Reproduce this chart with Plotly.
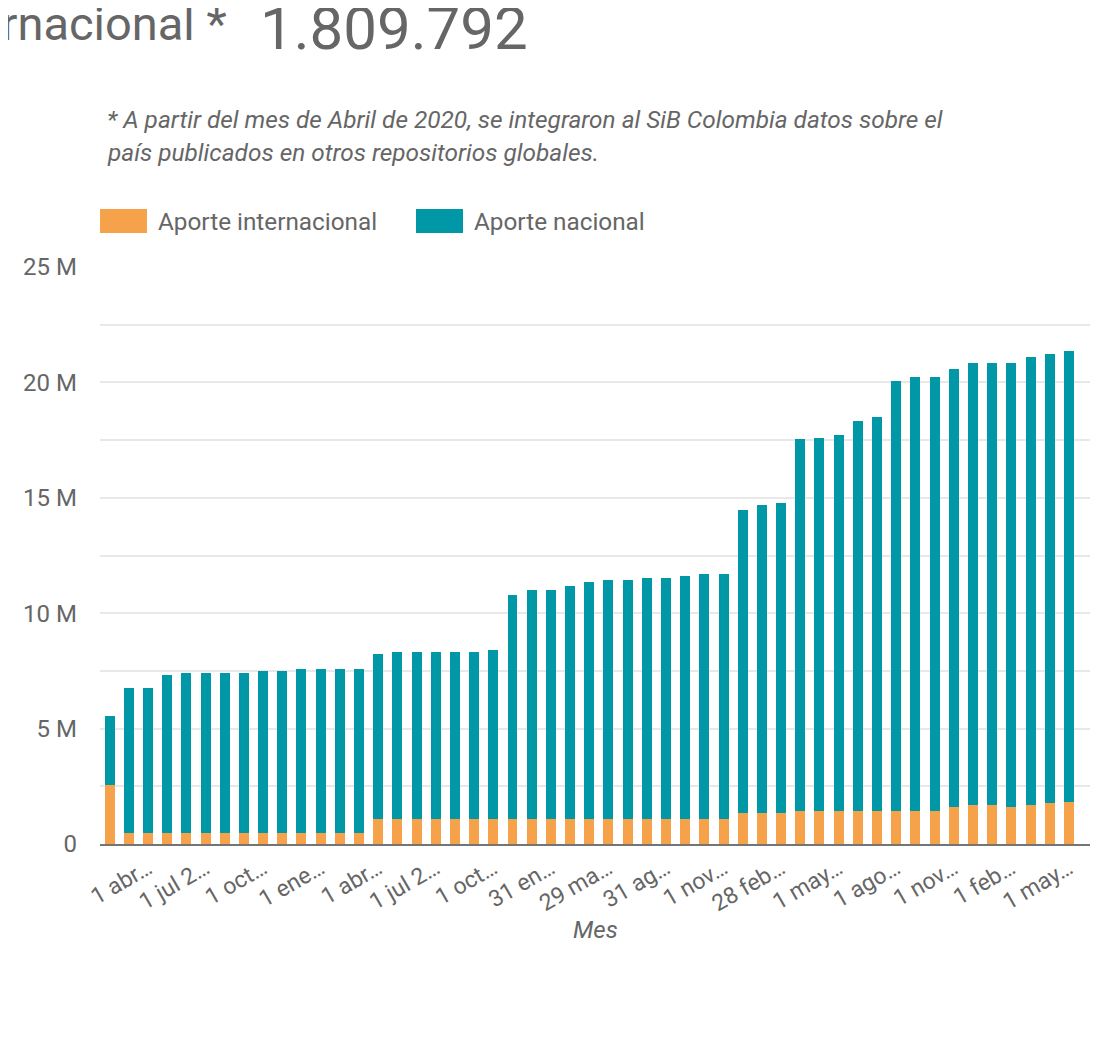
import plotly.graph_objects as go

# ---------------- data ----------------
meses = [
    "1 feb 2018", "1 mar 2018", "1 abr 2018", "1 may 2018", "1 jun 2018", "1 jul 2018",
    "1 ago 2018", "1 sept 2018", "1 oct 2018", "1 nov 2018", "1 dic 2018", "1 ene 2019",
    "1 feb 2019", "1 mar 2019", "1 abr 2019", "1 may 2019", "1 jun 2019", "1 jul 2019",
    "1 ago 2019", "1 sept 2019", "1 oct 2019", "1 nov 2019", "1 dic 2019", "31 ene 2020",
    "29 feb 2020", "31 mar 2020", "29 may 2020", "30 jun 2020", "31 jul 2020", "31 ago 2020",
    "1 sept 2020", "1 oct 2020", "1 nov 2020", "1 dic 2020", "1 ene 2021", "28 feb 2021",
    "31 mar 2021", "1 abr 2021", "1 may 2021", "1 jun 2021", "1 jul 2021", "1 ago 2021",
    "1 sept 2021", "1 oct 2021", "1 nov 2021", "1 dic 2021", "1 ene 2022", "1 feb 2022",
    "1 mar 2022", "1 abr 2022", "1 may 2022",
]

# values in millions of records
aporte_internacional = [
    2.56, 0.49, 0.49, 0.49, 0.49, 0.49, 0.49, 0.49, 0.49, 0.49, 0.49, 0.49, 0.49, 0.49,
    1.08, 1.08, 1.08, 1.08, 1.08, 1.08, 1.08, 1.08, 1.08, 1.08, 1.08, 1.08, 1.08, 1.08,
    1.08, 1.08, 1.08, 1.08, 1.08, 1.33, 1.33, 1.33, 1.42, 1.42, 1.42, 1.42, 1.42, 1.42,
    1.42, 1.42, 1.59, 1.68, 1.68, 1.59, 1.68, 1.77, 1.81,
]
aporte_nacional = [
    3.00, 6.28, 6.28, 6.82, 6.91, 6.91, 6.91, 6.91, 6.99, 6.99, 7.08, 7.08, 7.08, 7.08,
    7.17, 7.26, 7.26, 7.26, 7.26, 7.26, 7.34, 9.69, 9.94, 9.94, 10.11, 10.29, 10.37, 10.37,
    10.46, 10.46, 10.55, 10.63, 10.63, 13.15, 13.34, 13.43, 16.12, 16.19, 16.28, 16.90, 17.07,
    18.62, 18.80, 18.80, 18.98, 19.14, 19.14, 19.23, 19.40, 19.47, 19.54,
]

x_tick_labels = ["1 abr…", "1 jul 2…", "1 oct…", "1 ene…", "1 abr…", "1 jul 2…", "1 oct…",
                 "31 en…", "29 ma…", "31 ag…", "1 nov…", "28 feb…", "1 may…", "1 ago…",
                 "1 nov…", "1 feb…", "1 may…"]
y_tick_values = [0, 2.5, 5, 7.5, 10, 12.5, 15, 17.5, 20, 22.5, 25]
y_tick_labels = ["0", "", "5 M", "", "10 M", "", "15 M", "", "20 M", "", "25 M"]

series_names = ["Aporte internacional", "Aporte nacional"]
total_internacional_text = "1.809.792"

# ---------------- style ----------------
ORANGE = "#f6a24a"
TEAL = "#0097a7"
GREY = "#666666"
FONT = "Roboto"
OFF = 8                      # default page margin of the html body
W, H = 1098 - OFF, 1039 - OFF
# plot area in page pixels
PL, PR, PT, PB = 100, 1090, 267, 844


def px(x):
    return (x - PL) / (PR - PL)


def py(y):
    return (PB - y) / (PB - PT)


fig = go.Figure()
fig.add_trace(go.Bar(x=meses, y=[v * 1e6 for v in aporte_internacional],
                     name=series_names[0], marker=dict(color=ORANGE, line=dict(width=0))))
fig.add_trace(go.Bar(x=meses, y=[v * 1e6 for v in aporte_nacional],
                     name=series_names[1], marker=dict(color=TEAL, line=dict(width=0))))

fig.update_layout(
    width=W, height=H,
    barmode="stack", bargap=0.48,
    showlegend=False,
    paper_bgcolor="white", plot_bgcolor="white",
    margin=dict(l=PL - OFF, r=(W + OFF) - PR, t=PT - OFF, b=(H + OFF) - PB, autoexpand=False),
    font=dict(family=FONT, color=GREY, size=24),
)
fig.update_xaxes(
    type="category",
    range=[-0.5, len(meses) - 0.5 + 0.6],
    tickmode="array",
    tickvals=meses[2::3], ticktext=x_tick_labels,
    tickangle=-30,
    tickfont=dict(size=23, color=GREY, family=FONT),
    showline=True, linecolor="#757575", linewidth=2,
    showgrid=False, ticks="", zeroline=False,
)
fig.update_yaxes(
    range=[0, 25e6],
    tickmode="array",
    tickvals=[v * 1e6 for v in y_tick_values], ticktext=y_tick_labels,
    tickfont=dict(size=24, color=GREY, family=FONT),
    showgrid=True, gridcolor="#e8e8e8", gridwidth=1.5,
    zeroline=False, showline=False, ticks="",
    ticklabelstandoff=22,
)

ann = []
# scorecard header (partially cut off on the left)
ann.append(dict(text="Aporte internacional *", x=px(229), y=py(23), xref="paper", yref="paper",
                xanchor="right", yanchor="middle", showarrow=False,
                font=dict(size=47, color=GREY, family=FONT)))
ann.append(dict(text=total_internacional_text, x=px(258), y=py(29), xref="paper", yref="paper",
                xanchor="left", yanchor="middle", showarrow=False,
                font=dict(size=60, color=GREY, family=FONT)))
# note
ann.append(dict(text="<i>* A partir del mes de Abril de 2020, se integraron al SiB Colombia datos sobre el</i>",
                x=px(105), y=py(120), xref="paper", yref="paper", xanchor="left", yanchor="middle",
                showarrow=False, font=dict(size=24.4, color=GREY, family=FONT)))
ann.append(dict(text="<i>país publicados en otros repositorios globales.</i>",
                x=px(105), y=py(153), xref="paper", yref="paper", xanchor="left", yanchor="middle",
                showarrow=False, font=dict(size=24.4, color=GREY, family=FONT)))
# legend
legend_items = [(100, 147, 156, ORANGE, series_names[0]), (416, 463, 472, TEAL, series_names[1])]
shapes = []
for x0, x1, xt, col, name in legend_items:
    shapes.append(dict(type="rect", xref="paper", yref="paper", x0=px(x0), x1=px(x1),
                       y0=py(233), y1=py(209), fillcolor=col, line=dict(width=0)))
    ann.append(dict(text=name, x=px(xt), y=py(221), xref="paper", yref="paper",
                    xanchor="left", yanchor="middle", showarrow=False,
                    font=dict(size=24.3, color=GREY, family=FONT)))
# axis title
ann.append(dict(text="<i>Mes</i>", x=px(595), y=py(930), xref="paper", yref="paper",
                xanchor="center", yanchor="middle", showarrow=False,
                font=dict(size=24, color=GREY, family=FONT)))

fig.update_layout(annotations=ann, shapes=shapes)
fig.write_html("out.html")
